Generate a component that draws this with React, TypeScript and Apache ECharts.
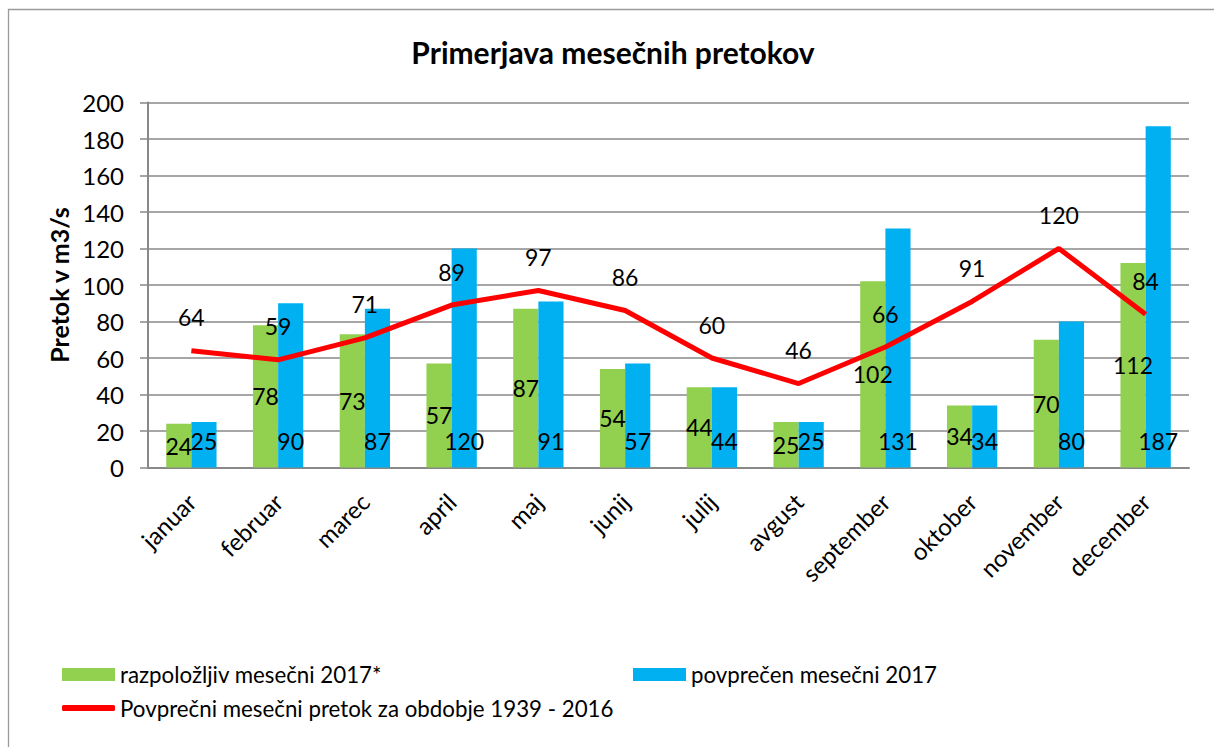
import React, { useEffect, useRef } from "react";
import * as echarts from "echarts";

const months = ["januar", "februar", "marec", "april", "maj", "junij", "julij", "avgust", "september", "oktober", "november", "december"];
const available2017 = [24, 78, 73, 57, 87, 54, 44, 25, 102, 34, 70, 112];
const average2017 = [25, 90, 87, 120, 91, 57, 44, 25, 131, 34, 80, 187];
const longTerm = [64, 59, 71, 89, 97, 86, 60, 46, 66, 91, 120, 84];

const nameGreen = "razpoložljiv mesečni 2017*";
const nameBlue = "povprečen mesečni 2017";
const nameRed = "Povprečni mesečni pretok za obdobje 1939 - 2016";

const FONT = "Lato";

export default function App() {
  const ref = useRef<HTMLDivElement>(null);
  useEffect(() => {
    if (!ref.current) return;
    const chart = echarts.init(ref.current, undefined, { renderer: "svg" });
    const legendText = { fontSize: 22.3, fontFamily: FONT, color: "#000" };
    chart.setOption({
      animation: false,
      backgroundColor: "#fff",
      graphic: [
        {
          type: "rect",
          shape: { x: 8.5, y: 9.5, width: 1400, height: 1000 },
          style: { fill: "none", stroke: "#9a9a9a", lineWidth: 1.3 },
          silent: true,
        },
        {
          type: "text",
          x: 613,
          y: 52,
          style: {
            text: "Primerjava mesečnih pretokov",
            font: `bold 30px ${FONT}`,
            fill: "#000",
            textAlign: "center",
            textVerticalAlign: "middle",
          },
        },
      ],
      grid: { left: 148, right: 25, top: 102.5, bottom: 279.5, containLabel: false },
      legend: [
        {
          data: [nameGreen],
          left: 62,
          top: 663.5,
          padding: 0,
          itemWidth: 53,
          itemHeight: 13,
          icon: "rect",
          textStyle: legendText,
        },
        {
          data: [nameBlue],
          left: 633,
          top: 663.5,
          padding: 0,
          itemWidth: 53,
          itemHeight: 13,
          icon: "rect",
          textStyle: legendText,
        },
        {
          data: [nameRed],
          left: 62,
          top: 697,
          padding: 0,
          itemWidth: 53,
          itemHeight: 6,
          icon: "roundRect",
          textStyle: legendText,
        },
      ],
      xAxis: {
        type: "category",
        data: months,
        axisTick: { show: false },
        axisLine: { lineStyle: { color: "#898989", width: 2 } },
        axisLabel: {
          interval: 0,
          rotate: 45,
          margin: 30,
          fontSize: 24,
          fontFamily: FONT,
          color: "#000",
        },
      },
      yAxis: {
        type: "value",
        min: 0,
        max: 200,
        interval: 20,
        name: "Pretok v m3/s",
        nameLocation: "middle",
        nameRotate: 90,
        nameGap: 76,
        nameTextStyle: { fontSize: 25, fontWeight: "bold", fontFamily: FONT, color: "#000" },
        axisLine: { show: true, lineStyle: { color: "#898989", width: 2 } },
        axisTick: { show: true, length: 8, lineStyle: { color: "#898989", width: 1.5 } },
        splitLine: { lineStyle: { color: "#898989", width: 1.5 } },
        axisLabel: { fontSize: 24, fontFamily: FONT, color: "#000", margin: 24 },
      },
      series: [
        {
          name: nameGreen,
          type: "bar",
          data: available2017,
          barGap: "0%",
          barCategoryGap: "42%",
          itemStyle: { color: "#92D050" },
          label: { show: true, position: "inside", fontSize: 23, fontFamily: FONT, color: "#000" },
        },
        {
          name: nameBlue,
          type: "bar",
          data: average2017,
          barGap: "0%",
          barCategoryGap: "42%",
          itemStyle: { color: "#00B0F0" },
          label: { show: true, position: "insideBottom", distance: 15, fontSize: 23, fontFamily: FONT, color: "#000" },
        },
        {
          name: nameRed,
          type: "line",
          data: longTerm,
          showSymbol: true,
          symbol: "circle",
          symbolSize: 0,
          z: 5,
          lineStyle: { color: "#FF0000", width: 5 },
          itemStyle: { color: "#FF0000" },
          label: { show: true, position: "top", distance: 22, fontSize: 23, fontFamily: FONT, color: "#000" },
        },
      ],
    });
    return () => chart.dispose();
  }, []);
  return (
    <div
      ref={ref}
      style={{ position: "fixed", left: 0, top: 0, width: 1214, height: 747, background: "#fff" }}
    />
  );
}
